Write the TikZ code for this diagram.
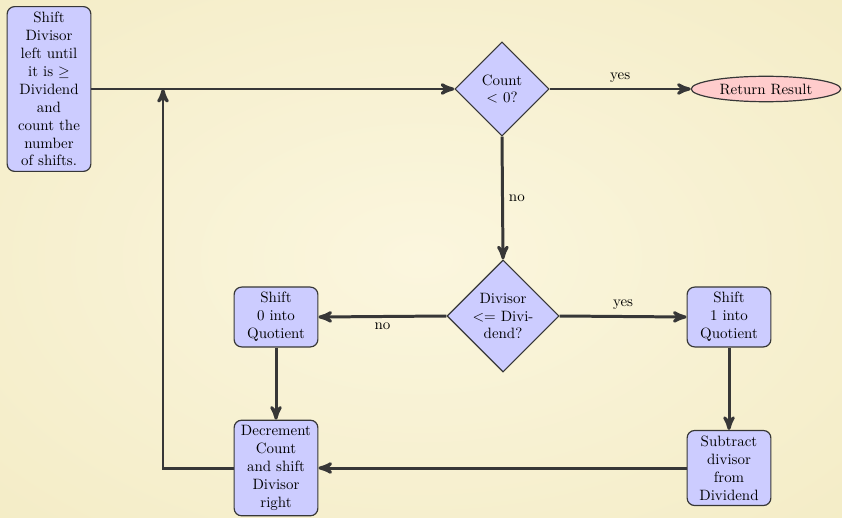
\documentclass[tikz,border=0pt]{standalone}
\usepackage{tikz}
\usetikzlibrary{arrows,shapes.geometric}
\usepackage{amssymb}
\usepackage{amsmath}

\definecolor{paperin}{RGB}{251,246,222}
\definecolor{paperout}{RGB}{237,227,176}
\definecolor{boxfill}{RGB}{204,204,255}
\definecolor{endfill}{RGB}{255,204,204}
\definecolor{linegray}{RGB}{55,55,55}
\pgfdeclareradialshading{paper}{\pgfpointorigin}{color(0bp)=(paperin); color(71bp)=(paperout)}

\tikzset{
  block/.style={draw=linegray, line width=0.8pt, fill=boxfill, rounded corners=5pt, align=center, minimum width=56pt, inner sep=3.5pt},
  decision/.style={diamond, draw=linegray, line width=0.8pt, fill=boxfill, align=center, inner sep=0pt},
  terminal/.style={ellipse, draw=linegray, line width=0.8pt, fill=endfill, inner xsep=1pt, inner ysep=0pt, minimum width=100pt, minimum height=17pt},
  flow/.style={draw=linegray, line width=2pt, -stealth'}
}

\begin{document}
\begin{tikzpicture}[x=0.0235cm, y=-0.0235cm]
\useasboundingbox (0,0) rectangle (842,517);
\shade[shading=paper] (0,0) rectangle (842,517);
\node[block] (shiftleft) at (49,89) {Shift\\Divisor\\left until\\it is $\geq$\\Dividend\\and\\count the\\number\\of shifts.};
\node[decision, minimum size=63pt] (countneg) at (502,89) {Count\\$<$ 0?};
\node[terminal] (result) at (766,89) {Return Result};
\node[decision, minimum size=75pt] (divle) at (503,316) {Divisor\\$<$= Divi-\\dend?};
\node[block] (shiftzero) at (276,317) {Shift\\0 into\\Quotient};
\node[block] (shiftone) at (729,317) {Shift\\1 into\\Quotient};
\node[block] (decr) at (276,468) {Decrement\\Count\\and shift\\Divisor\\right};
\node[block] (subtr) at (729,468) {Subtract\\divisor\\from\\Dividend};
\coordinate (loopin) at (163,89);

\draw[flow] (shiftleft.east) -- (countneg.west);
\draw[flow] (countneg.east) -- node[above] {yes} (result.west);
\draw[flow] (countneg.south) -- node[right] {no} (divle.north);
\draw[flow] (divle.east) -- node[above] {yes} (shiftone.west);
\draw[flow] (divle.west) -- node[below] {no} (shiftzero.east);
\draw[flow] (shiftzero.south) -- (decr.north);
\draw[flow] (shiftone.south) -- (subtr.north);
\draw[flow] (subtr.west) -- (decr.east);
\draw[flow] (decr.west) -| (loopin);
\end{tikzpicture}
\end{document}
